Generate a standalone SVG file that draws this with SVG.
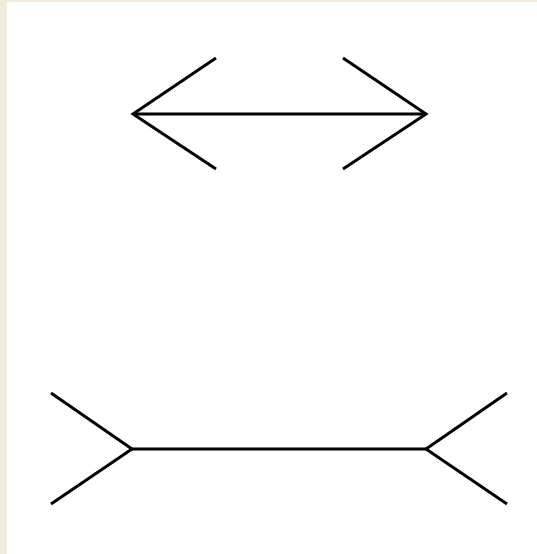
<svg xmlns="http://www.w3.org/2000/svg" width="537" height="554" viewBox="0 0 537 554">
<style>
.ln{stroke:#000;stroke-width:3;fill:none;stroke-linecap:butt;stroke-linejoin:miter}
</style>
<rect x="0" y="0" width="537" height="554" fill="#f0ecdc"/>
<rect x="7" y="2" width="530" height="552" fill="#fff"/>
<g id="top-figure">
<line class="ln" x1="133" y1="114" x2="426" y2="114"/>
<polyline class="ln" points="216,58 133,114 216,169"/>
<polyline class="ln" points="343,58 426,114 343,169"/>
</g>
<g id="bottom-figure">
<line class="ln" x1="132" y1="449" x2="426" y2="449"/>
<polyline class="ln" points="51,393 132,449 51,504"/>
<polyline class="ln" points="507,393 426,449 507,504"/>
</g>
</svg>
